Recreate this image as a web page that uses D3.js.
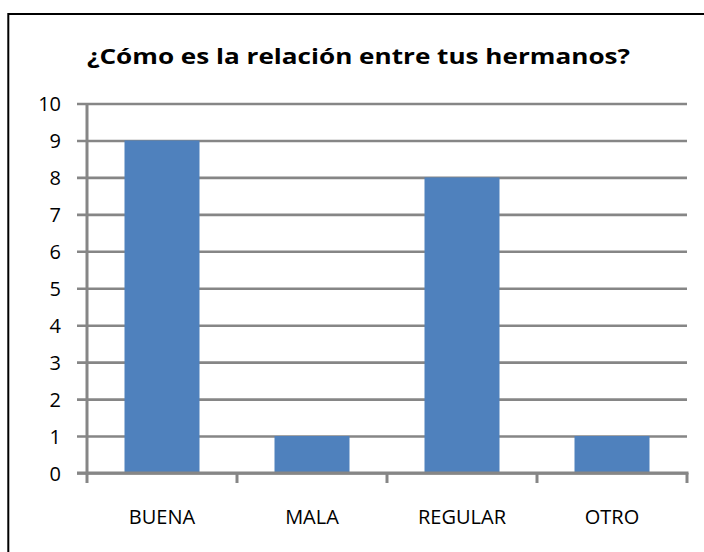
<!DOCTYPE html>
<html>
<head>
<meta charset="utf-8">
<script src="https://cdn.jsdelivr.net/npm/d3@7"></script>
<style>
  html, body { margin: 0; padding: 0; background: #fff; }
  svg { display: block; }
</style>
</head>
<body>
<div id="chart"></div>
<script>
// --- Chart data ---
const chartTitle = "¿Cómo es la relación entre tus hermanos?";
const categories = ["BUENA", "MALA", "REGULAR", "OTRO"];
const values = [9, 1, 8, 1];
const yTicks = [0, 1, 2, 3, 4, 5, 6, 7, 8, 9, 10];

const width = 704, height = 552;
const plot = { left: 87, right: 687, top: 103.5, bottom: 473 };
const gridColor = "#868686";
const barColor = "#4F81BD";
const fontFamily = "'Open Sans', Lato, 'Liberation Sans', sans-serif";

const svg = d3.select("#chart").append("svg")
    .attr("width", width)
    .attr("height", height);

// outer chart border (right and bottom edges fall outside the picture)
svg.append("rect")
    .attr("x", 8.3)
    .attr("y", 14)
    .attr("width", width + 20)
    .attr("height", height + 20)
    .attr("fill", "#fff")
    .attr("stroke", "#000")
    .attr("stroke-width", 2);

// title
svg.append("text")
    .attr("x", 358.5)
    .attr("y", 64)
    .attr("text-anchor", "middle")
    .attr("font-family", fontFamily)
    .attr("font-weight", "bold")
    .attr("font-size", 22)
    .attr("textLength", 543)
    .attr("lengthAdjust", "spacingAndGlyphs")
    .text(chartTitle);

const x = d3.scaleBand()
    .domain(categories)
    .range([plot.left, plot.right])
    .paddingInner(0.5)
    .paddingOuter(0.25);

const xEdges = d3.scaleBand()
    .domain(categories)
    .range([plot.left, plot.right]);

const y = d3.scaleLinear()
    .domain([0, 10])
    .range([plot.bottom, plot.top]);

// horizontal gridlines with left tick marks
const yAxis = d3.axisLeft(y)
    .tickValues(yTicks)
    .tickSize(-(plot.right - plot.left))
    .tickSizeOuter(0)
    .tickPadding(26)
    .tickFormat(d3.format("d"));

const gy = svg.append("g")
    .attr("transform", `translate(${plot.left},0)`)
    .call(yAxis);
gy.select(".domain").remove();
gy.selectAll(".tick line")
    .attr("x1", -10)
    .attr("stroke", gridColor)
    .attr("stroke-width", 2.6);
gy.selectAll(".tick text")
    .attr("font-family", fontFamily)
    .attr("font-size", 20)
    .attr("fill", "#000")
    .attr("dy", "0.36em");

// vertical axis line
svg.append("line")
    .attr("x1", plot.left).attr("x2", plot.left)
    .attr("y1", plot.top).attr("y2", plot.bottom + 1.5)
    .attr("stroke", gridColor)
    .attr("stroke-width", 3);

// bars
svg.append("g")
    .selectAll("rect")
    .data(values)
    .join("rect")
    .attr("x", (d, i) => x(categories[i]))
    .attr("y", d => y(d))
    .attr("width", x.bandwidth())
    .attr("height", d => y(0) - y(d))
    .attr("fill", barColor);

// category axis: baseline plus ticks between bands
const bandEdges = [plot.left].concat(categories.map(c => xEdges(c) + xEdges.bandwidth()));
svg.append("line")
    .attr("x1", plot.left - 10).attr("x2", plot.right + 1.5)
    .attr("y1", plot.bottom).attr("y2", plot.bottom)
    .attr("stroke", gridColor)
    .attr("stroke-width", 3);
svg.append("g")
    .selectAll("line")
    .data(bandEdges)
    .join("line")
    .attr("x1", d => d).attr("x2", d => d)
    .attr("y1", plot.bottom).attr("y2", plot.bottom + 10)
    .attr("stroke", gridColor)
    .attr("stroke-width", 3);

svg.append("g")
    .selectAll("text")
    .data(categories)
    .join("text")
    .attr("x", d => xEdges(d) + xEdges.bandwidth() / 2)
    .attr("y", 524)
    .attr("text-anchor", "middle")
    .attr("font-family", fontFamily)
    .attr("font-size", 20)
    .attr("fill", "#000")
    .text(d => d);
</script>
</body>
</html>
